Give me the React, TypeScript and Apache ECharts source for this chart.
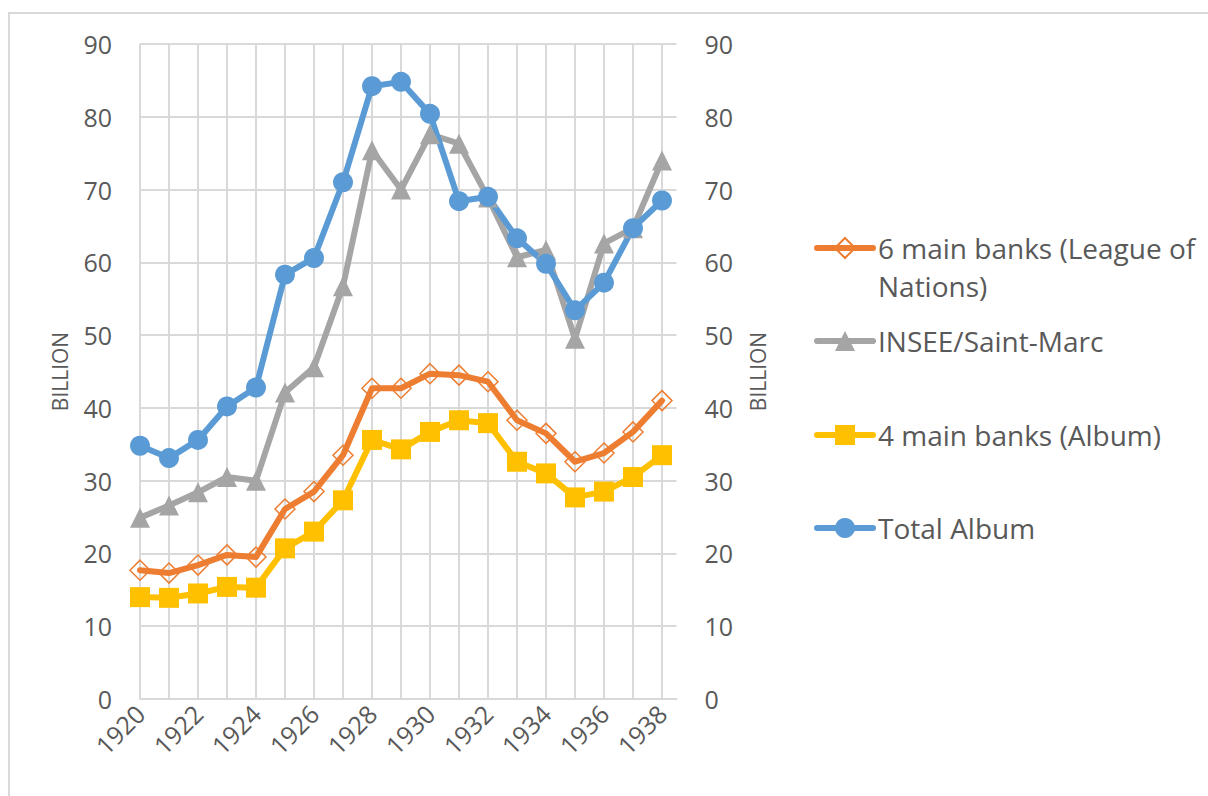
import React, { useEffect, useRef } from "react";
import * as echarts from "echarts";

const years = [1920, 1921, 1922, 1923, 1924, 1925, 1926, 1927, 1928, 1929, 1930, 1931, 1932, 1933, 1934, 1935, 1936, 1937, 1938];

const leagueOfNations = [17.7, 17.3, 18.4, 19.8, 19.5, 26.1, 28.5, 33.5, 42.7, 42.7, 44.7, 44.5, 43.6, 38.3, 36.5, 32.6, 33.8, 36.7, 41.0];
const inseeSaintMarc = [24.9, 26.6, 28.4, 30.5, 30.0, 42.1, 45.6, 56.7, 75.4, 70.0, 77.6, 76.3, 68.9, 60.7, 61.7, 49.5, 62.6, 64.7, 74.0];
const fourMainBanks = [14.0, 13.9, 14.5, 15.4, 15.3, 20.7, 23.0, 27.3, 35.6, 34.3, 36.7, 38.3, 37.9, 32.6, 31.0, 27.7, 28.5, 30.5, 33.5];
const totalAlbum = [34.8, 33.1, 35.6, 40.2, 42.8, 58.3, 60.6, 71.0, 84.2, 84.8, 80.4, 68.4, 69.0, 63.3, 59.8, 53.4, 57.2, 64.7, 68.5];

const seriesNames = ["6 main banks (League of Nations)", "INSEE/Saint-Marc", "4 main banks (Album)", "Total Album"];
const legendLabels = ["\n6 main banks (League of\nNations)", "INSEE/Saint-Marc", "4 main banks (Album)", "Total Album"];
const yAxisName = "BILLION";

const FONT = "'Open Sans', sans-serif";
const TEXT = "#595959";
const GRID = "#D9D9D9";
const ORANGE = "#ED7D31";
const GRAY = "#A5A5A5";
const YELLOW = "#FFC000";
const BLUE = "#5B9BD5";

const pair = (vals: number[]) => years.map((y, i) => [y, vals[i]]);

export default function App() {
  const ref = useRef<HTMLDivElement>(null);
  useEffect(() => {
    if (!ref.current) return;
    const chart = echarts.init(ref.current, undefined, { renderer: "svg" });
    const lineBase = { width: 6, cap: "round", join: "round" };
    const legendIconCenters = [248, 341, 435, 528];
    const legendLineHeight = 38;
    const legends = seriesNames.map((name, i) => {
      const lines = legendLabels[i].split("\n").length;
      return {
        data: [name],
        left: 809,
        top: legendIconCenters[i] - (lines * legendLineHeight) / 2 - 5,
        itemWidth: 56,
        itemHeight: 25,
        selectedMode: false,
        formatter: () => legendLabels[i],
        lineStyle: { width: 6 },
        textStyle: { fontFamily: FONT, fontSize: 28, color: TEXT, lineHeight: legendLineHeight },
      };
    });
    const yAxisCommon = {
      type: "value",
      min: 0,
      max: 90,
      interval: 10,
      name: yAxisName,
      nameLocation: "middle",
      nameRotate: 90,
      nameTextStyle: { fontFamily: FONT, fontSize: 21, color: TEXT },
      axisLine: { show: false },
      axisTick: { show: false },
      axisLabel: { fontFamily: FONT, fontSize: 25, color: TEXT, margin: 28 },
    };
    chart.setOption({
      animation: false,
      backgroundColor: "#ffffff",
      grid: { left: 140, right: 531.5, top: 44, bottom: 97, containLabel: false },
      graphic: [
        {
          type: "rect",
          shape: { x: 9, y: 13, width: 1300, height: 900 },
          style: { fill: "none", stroke: GRID, lineWidth: 2 },
          silent: true,
        },
      ],
      legend: legends,
      xAxis: {
        type: "value",
        min: 1920,
        max: 1938.5,
        interval: 1,
        axisLine: { show: true, lineStyle: { color: GRID, width: 2 } },
        axisTick: { show: false },
        splitLine: { show: true, showMaxLine: false, lineStyle: { color: GRID, width: 2 } },
        axisLabel: {
          fontFamily: FONT,
          fontSize: 25,
          color: TEXT,
          rotate: 45,
          margin: 10,
          showMaxLabel: false,
          formatter: (v: number) => (Number.isInteger(v) && v % 2 === 0 ? String(v) : ""),
        },
      },
      yAxis: [
        { ...yAxisCommon, position: "left", nameGap: 70, splitLine: { show: true, lineStyle: { color: GRID, width: 2 } } },
        { ...yAxisCommon, position: "right", nameGap: 71, splitLine: { show: false } },
      ],
      series: [
        {
          name: seriesNames[0],
          type: "line",
          data: pair(leagueOfNations),
          symbol: "diamond",
          symbolSize: 20,
          lineStyle: { ...lineBase, color: ORANGE },
          itemStyle: { color: "rgba(255,255,255,0)", borderColor: ORANGE, borderWidth: 1.5 },
        },
        {
          name: seriesNames[1],
          type: "line",
          data: pair(inseeSaintMarc),
          symbol: "triangle",
          symbolSize: 20,
          lineStyle: { ...lineBase, color: GRAY },
          itemStyle: { color: GRAY },
        },
        {
          name: seriesNames[2],
          type: "line",
          data: pair(fourMainBanks),
          symbol: "rect",
          symbolSize: 20,
          lineStyle: { ...lineBase, color: YELLOW },
          itemStyle: { color: YELLOW },
        },
        {
          name: seriesNames[3],
          type: "line",
          data: pair(totalAlbum),
          symbol: "circle",
          symbolSize: 20,
          lineStyle: { ...lineBase, color: BLUE },
          itemStyle: { color: BLUE },
        },
      ],
    });
    return () => chart.dispose();
  }, []);
  return <div ref={ref} style={{ position: "absolute", left: 0, top: 0, width: 1208, height: 796 }} />;
}
